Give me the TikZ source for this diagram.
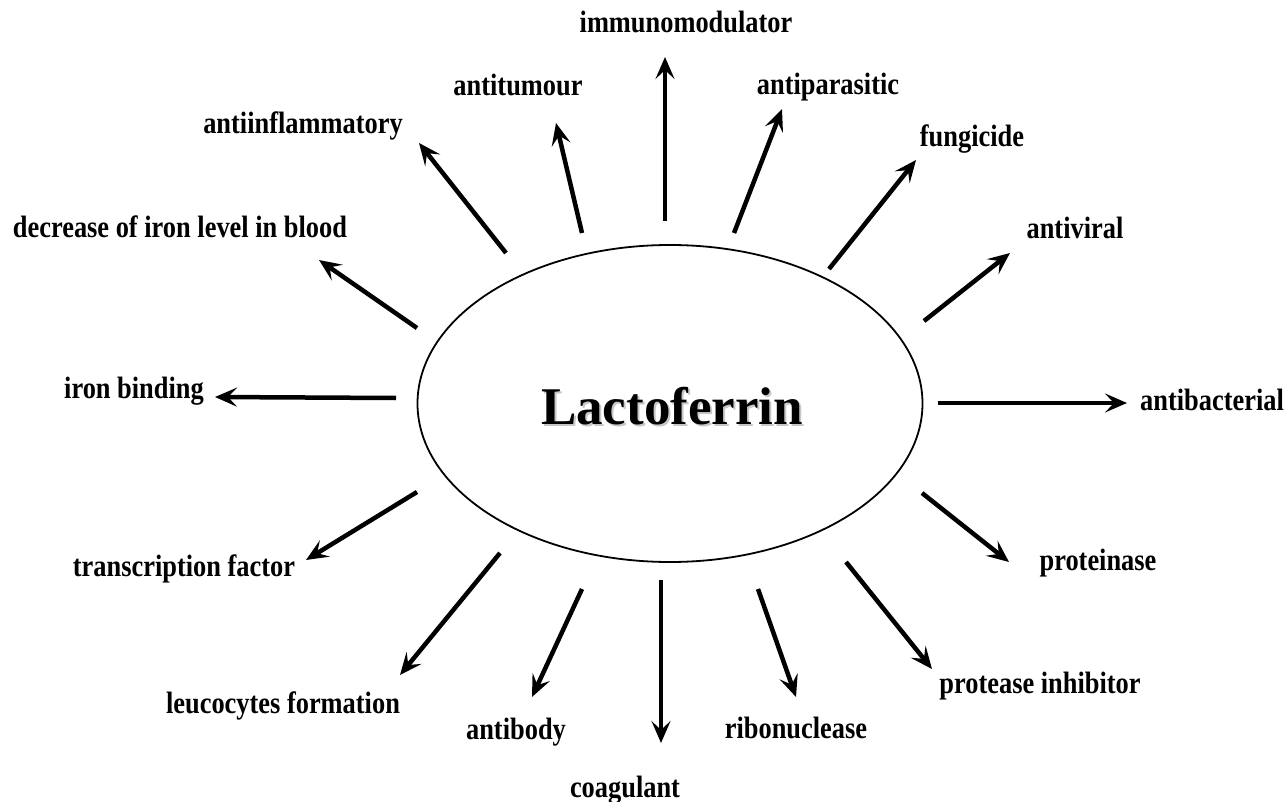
\documentclass[tikz,border=0pt]{standalone}
\usepackage{fontspec}
\setmainfont{Liberation Serif}
\usetikzlibrary{arrows.meta,shapes.geometric}
\newcommand\tall[1]{\scalebox{1}[1.17]{#1}}
\tikzset{
  lbl/.style={anchor=base,inner sep=0pt,font=\fontsize{26.4}{30}\selectfont\bfseries},
  arr/.style={line width=4.5pt,-{Stealth[length=22pt,width=19pt,inset=9pt]}},
  core/.style={draw,ellipse,line width=1.8pt,minimum width=505pt,minimum height=317pt,
               inner sep=0pt,font=\fontsize{53}{60}\selectfont\bfseries},
}
\begin{document}
\begin{tikzpicture}[x=1pt,y=-1pt]
  \useasboundingbox (0,0) rectangle (1287,802);
  % ===== centre =====
  \node[font=\fontsize{53}{60}\selectfont\bfseries,text=black!22] (lfs) at (674,408.5){Lactoferrin};
  \node[core] (lf) at (670,403.5){};
  \node[font=\fontsize{53}{60}\selectfont\bfseries] (lft) at (672,406.5){Lactoferrin};

  % ===== upper half =====
  \node[lbl] (imm) at (686,33){\tall{immunomodulator}};
  \coordinate (imm-s) at (665,221); \coordinate (imm-t) at (665,57);
  \draw[arr] (imm-s)--(imm-t);
  \node[lbl] (tum) at (518,96){\tall{antitumour}};
  \coordinate (tum-s) at (582,233); \coordinate (tum-t) at (556,123);
  \draw[arr] (tum-s)--(tum-t);
  \node[lbl] (par) at (828,95){\tall{antiparasitic}};
  \coordinate (par-s) at (734,233); \coordinate (par-t) at (782,109);
  \draw[arr] (par-s)--(par-t);
  \node[lbl] (inf) at (303,134){\tall{antiinflammatory}};
  \coordinate (inf-s) at (506,253); \coordinate (inf-t) at (419,143);
  \draw[arr] (inf-s)--(inf-t);
  \node[lbl] (fun) at (972,147){\tall{fungicide}};
  \coordinate (fun-s) at (829,269); \coordinate (fun-t) at (916,160);
  \draw[arr] (fun-s)--(fun-t);
  \node[lbl] (dec) at (180,238){\tall{decrease of iron level in blood}};
  \coordinate (dec-s) at (417,328); \coordinate (dec-t) at (319,260);
  \draw[arr] (dec-s)--(dec-t);
  \node[lbl] (vir) at (1075,239){\tall{antiviral}};
  \coordinate (vir-s) at (924,321); \coordinate (vir-t) at (1010,253);
  \draw[arr] (vir-s)--(vir-t);

  % ===== sides =====
  \node[lbl] (irb) at (134,398){\tall{iron binding}};
  \coordinate (irb-s) at (396,398); \coordinate (irb-t) at (215,397);
  \draw[arr] (irb-s)--(irb-t);
  \node[lbl] (bac) at (1212,410){\tall{antibacterial}};
  \coordinate (bac-s) at (938,403); \coordinate (bac-t) at (1127,403);
  \draw[arr] (bac-s)--(bac-t);

  % ===== lower half =====
  \node[lbl] (trf) at (184,576){\tall{transcription factor}};
  \coordinate (trf-s) at (417,492); \coordinate (trf-t) at (306,560);
  \draw[arr] (trf-s)--(trf-t);
  \node[lbl] (prt) at (1098,570){\tall{proteinase}};
  \coordinate (prt-s) at (922,493); \coordinate (prt-t) at (1009,562);
  \draw[arr] (prt-s)--(prt-t);
  \node[lbl] (leu) at (283,713){\tall{leucocytes formation}};
  \coordinate (leu-s) at (500,553); \coordinate (leu-t) at (400,675);
  \draw[arr] (leu-s)--(leu-t);
  \node[lbl] (pin) at (1040,693){\tall{protease inhibitor}};
  \coordinate (pin-s) at (846,562); \coordinate (pin-t) at (932,669);
  \draw[arr] (pin-s)--(pin-t);
  \node[lbl] (abd) at (516,739){\tall{antibody}};
  \coordinate (abd-s) at (582,589); \coordinate (abd-t) at (532,697);
  \draw[arr] (abd-s)--(abd-t);
  \node[lbl] (rib) at (796,738){\tall{ribonuclease}};
  \coordinate (rib-s) at (758,589); \coordinate (rib-t) at (796,697);
  \draw[arr] (rib-s)--(rib-t);
  \node[lbl] (coa) at (625,797){\tall{coagulant}};
  \coordinate (coa-s) at (661,580); \coordinate (coa-t) at (661,743);
  \draw[arr] (coa-s)--(coa-t);
\end{tikzpicture}
\end{document}
